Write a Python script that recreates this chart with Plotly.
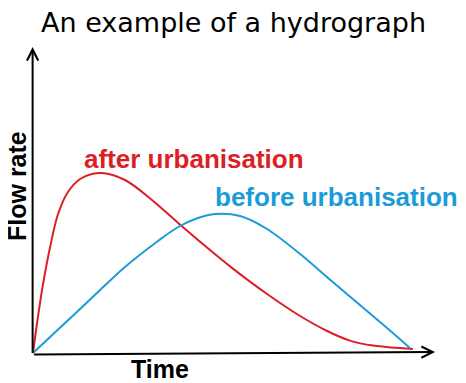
import plotly.graph_objects as go

# Data (arbitrary time / flow units)
after_time = [0, 0.13, 0.26, 0.45, 0.66, 0.92, 1.24, 1.55, 1.82, 2.42, 3.13, 3.82, 4.53, 5.26, 6.16, 7.03, 7.74, 8.34, 8.95, 10.0]
after_flow = [0, 1.8, 3.4, 5.3, 6.95, 8.05, 8.7, 8.95, 9.0, 8.65, 7.65, 6.5, 5.35, 4.22, 2.95, 1.85, 1.1, 0.62, 0.37, 0.2]

before_time = [0, 0.66, 1.55, 2.42, 3.29, 3.82, 4.34, 4.79, 5.45, 6.16, 7.03, 7.89, 8.79, 9.47, 9.92]
before_flow = [0, 1.17, 2.76, 4.3, 5.6, 6.3, 6.75, 6.95, 6.85, 6.2, 4.95, 3.55, 2.1, 1.0, 0.25]

title_text = "An example of a hydrograph"
after_label = "after urbanisation"
before_label = "before urbanisation"
x_label = "Time"
y_label = "Flow rate"

RED = "#dc1f27"
BLUE = "#1b9bd8"

W, H = 466, 383
OFF = 8  # page body margin in the browser

fig = go.Figure()
fig.add_trace(go.Scatter(x=after_time, y=after_flow, mode="lines",
                         line=dict(color=RED, width=2, shape="spline", smoothing=1.0),
                         hoverinfo="skip", showlegend=False))
fig.add_trace(go.Scatter(x=before_time, y=before_flow, mode="lines",
                         line=dict(color=BLUE, width=2, shape="spline", smoothing=0.9),
                         hoverinfo="skip", showlegend=False))

def px(p):
    return (p - OFF) / W

def py(p):
    return 1 - (p - OFF) / H

annotations = [
    # axes arrows (data coordinates)
    dict(x=10.58, y=0.05, ax=-0.01, ay=-0.07, xref="x", yref="y", axref="x", ayref="y",
         showarrow=True, arrowhead=5, arrowsize=1.1, arrowwidth=2, arrowcolor="black", text=""),
    dict(x=-0.01, y=15.3, ax=-0.01, ay=-0.07, xref="x", yref="y", axref="x", ayref="y",
         showarrow=True, arrowhead=5, arrowsize=1.1, arrowwidth=2, arrowcolor="black", text=""),
    dict(x=px(233.5), y=py(23), xref="paper", yref="paper", text=title_text, showarrow=False,
         xanchor="center", yanchor="middle",
         font=dict(family="DejaVu Sans", size=27, color="black")),
    dict(x=px(194), y=py(159), xref="paper", yref="paper", text="<b>" + after_label + "</b>",
         showarrow=False, xanchor="center", yanchor="middle",
         font=dict(family="Liberation Sans, Arial", size=26, color=RED)),
    dict(x=px(336), y=py(197), xref="paper", yref="paper", text="<b>" + before_label + "</b>",
         showarrow=False, xanchor="center", yanchor="middle",
         font=dict(family="Liberation Sans, Arial", size=26, color=BLUE)),
    dict(x=px(160), y=py(369), xref="paper", yref="paper", text="<b>" + x_label + "</b>",
         showarrow=False, xanchor="center", yanchor="middle",
         font=dict(family="Liberation Sans, Arial", size=25, color="black")),
    dict(x=px(17), y=py(186), xref="paper", yref="paper", text="<b>" + y_label + "</b>",
         showarrow=False, xanchor="center", yanchor="middle", textangle=-90,
         font=dict(family="Liberation Sans, Arial", size=25, color="black")),
]

fig.update_layout(
    width=W, height=H,
    margin=dict(l=0, r=0, t=0, b=0),
    paper_bgcolor="white", plot_bgcolor="white",
    xaxis=dict(range=[(OFF - 33) / 38, (W + OFF - 33) / 38], visible=False, fixedrange=True),
    yaxis=dict(range=[(353 - H - OFF) / 20, (353 - OFF) / 20], visible=False, fixedrange=True),
    annotations=annotations,
)

fig.write_html("out.html")
